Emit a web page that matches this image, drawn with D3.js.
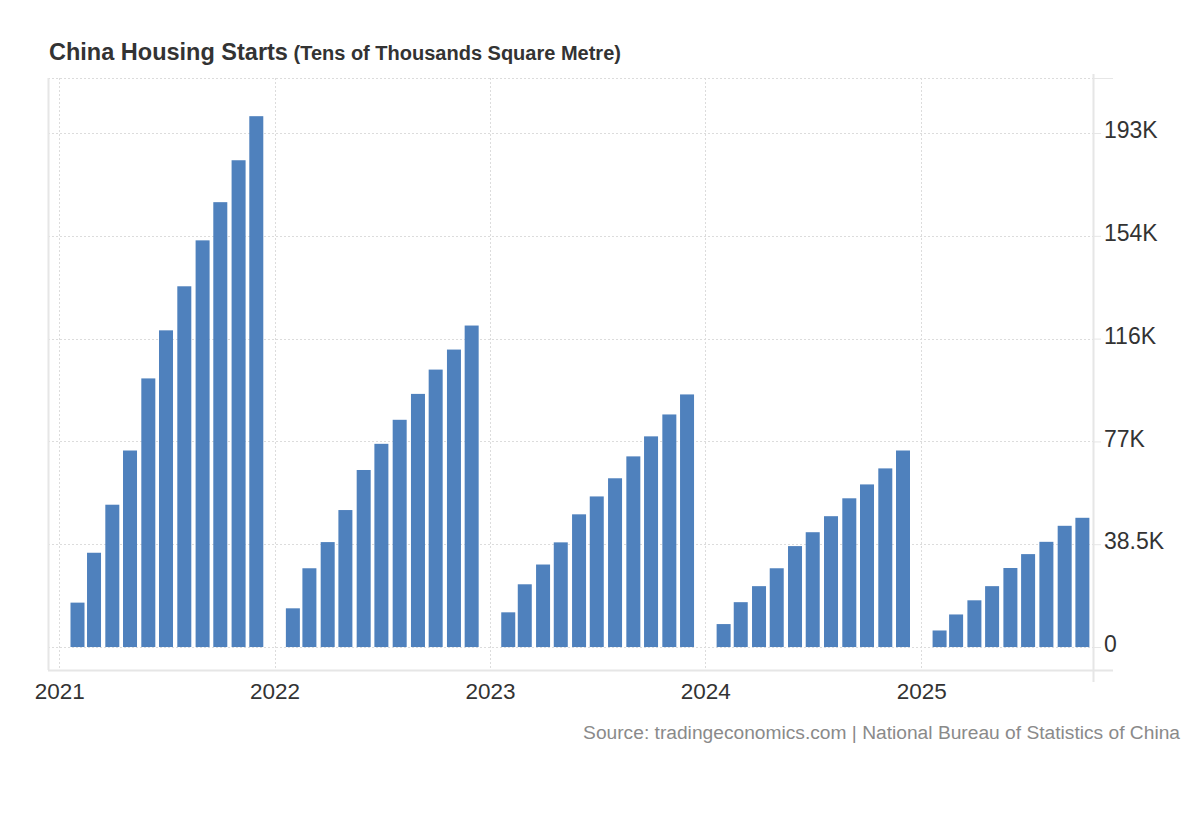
<!DOCTYPE html>
<html>
<head>
<meta charset="utf-8">
<script src="https://cdn.jsdelivr.net/npm/d3@7/dist/d3.min.js"></script>
<style>
  body { margin: 0; background: #fff; }
  svg text { font-family: "Liberation Sans", Arial, sans-serif; }
</style>
</head>
<body>
<div class="Graph"></div>
<script>
// cumulative housing starts, 10k sqm, Jan-Feb reported together so months start at Feb
const months = ["02","03","04","05","06","07","08","09","10","11","12"];
const years = [2021, 2022, 2023, 2024, 2025];
const starts2021 = [16630, 35310, 53300, 73600, 100600, 118600, 135100, 152300, 166600, 182300, 198800];
const starts2022 = [14500, 29500, 39300, 51300, 66300, 76100, 85100, 94800, 103900, 111400, 120400];
const starts2023 = [13000, 23500, 30900, 39200, 49700, 56400, 63200, 71400, 78900, 87100, 94600];
const starts2024 = [8600, 16800, 22800, 29500, 37800, 43000, 49000, 55700, 60900, 66900, 73600];
const starts2025 = [6200, 12200, 17500, 22800, 29600, 34800, 39400, 45400, 48400];
const yTicks = [0, 38500, 77000, 115500, 154000, 192500];
const yTickLabels = ["0", "38.5K", "77K", "116K", "154K", "193K"];

const title = "China Housing Starts";
const subtitle = "(Tens of Thousands Square Metre)";
const source = "Source: tradingeconomics.com | National Bureau of Statistics of China";

let data = [];
[starts2021, starts2022, starts2023, starts2024, starts2025].forEach((arr, i) => {
	arr.forEach((v, j) => {
		data.push({ date: new Date(years[i] + "-" + months[j] + "-01T00:00:00"), value: v });
	});
});

const W = 1200, H = 820;
const pLeft = 48, pRight = 1093, pTop = 78, pBottom = 670;
const barColor = "#4f81bd";
const gridColor = "#dcdcdc";

let svg = d3.select(".Graph")
	.append("svg")
	.attr("width", W)
	.attr("height", H);

let x = d3.scaleTime()
	.domain([new Date("2020-12-13T00:00:00"), new Date("2025-10-19T00:00:00")])
	.range([pLeft, pRight]);

let y = d3.scaleLinear()
	.domain([-8600, 213100])
	.range([pBottom, pTop]);

// horizontal grid
svg.append("g")
	.selectAll("line")
	.data(yTicks.concat([213100]))
	.enter()
	.append("line")
	.attr("x1", pLeft)
	.attr("x2", pRight)
	.attr("y1", d => Math.round(y(d)) + 0.5)
	.attr("y2", d => Math.round(y(d)) + 0.5)
	.attr("stroke", gridColor)
	.attr("stroke-dasharray", "2,2");

// vertical grid at each year
const yearDates = years.map(yr => new Date(yr + "-01-01T00:00:00"));
svg.append("g")
	.selectAll("line")
	.data(yearDates)
	.enter()
	.append("line")
	.attr("x1", d => Math.round(x(d)) + 0.5)
	.attr("x2", d => Math.round(x(d)) + 0.5)
	.attr("y1", pTop)
	.attr("y2", pBottom)
	.attr("stroke", gridColor)
	.attr("stroke-dasharray", "2,2");

// bars, centred on the first of the month
const barW = 14;
svg.append("g")
	.selectAll("rect")
	.data(data)
	.enter()
	.append("rect")
	.attr("x", d => x(d.date) - barW / 2)
	.attr("width", barW)
	.attr("y", d => y(d.value))
	.attr("height", d => y(0) - y(d.value))
	.attr("fill", barColor);

// frame lines
svg.append("line")
	.attr("x1", pLeft + 0.5).attr("x2", pLeft + 0.5)
	.attr("y1", pTop).attr("y2", pBottom)
	.attr("stroke", "#e6e6e6").attr("stroke-width", 2);
svg.append("line")
	.attr("x1", pLeft).attr("x2", pRight + 20)
	.attr("y1", pBottom + 0.5).attr("y2", pBottom + 0.5)
	.attr("stroke", "#e6e6e6").attr("stroke-width", 2);

// right y axis
let yAxis = d3.axisRight(y)
	.tickValues(yTicks)
	.tickSize(8)
	.tickPadding(3)
	.tickFormat((d, i) => yTickLabels[i]);
let ya = svg.append("g")
	.attr("transform", "translate(" + pRight + ",0)")
	.call(yAxis);
ya.select(".domain")
	.attr("d", "M0.5," + (pTop - 4) + "V" + (pBottom + 12))
	.attr("stroke", "#e6e6e6")
	.attr("stroke-width", 2);
ya.selectAll(".tick line").attr("stroke", "#e6e6e6");
ya.selectAll(".tick text")
	.attr("fill", "#333")
	.attr("dy", "0.2em")
	.style("font-size", "23px");
ya.append("line")
	.attr("x1", 0).attr("x2", 20)
	.attr("y1", pTop + 0.5).attr("y2", pTop + 0.5)
	.attr("stroke", "#e6e6e6");

// x axis labels
let xAxis = d3.axisBottom(x)
	.tickValues(yearDates)
	.tickSize(0)
	.tickPadding(13)
	.tickFormat(d3.timeFormat("%Y"));
let xa = svg.append("g")
	.attr("transform", "translate(0," + pBottom + ")")
	.call(xAxis);
xa.select(".domain").remove();
xa.selectAll(".tick text")
	.attr("fill", "#333")
	.style("font-size", "22.5px");

// title
let t = svg.append("text")
	.attr("x", 49)
	.attr("y", 60)
	.attr("fill", "#333")
	.style("font-weight", "bold");
t.append("tspan").text(title).style("font-size", "23.5px");
t.append("tspan").text(" " + subtitle).style("font-size", "20px");

// source
svg.append("text")
	.attr("x", 1180)
	.attr("y", 739)
	.attr("text-anchor", "end")
	.attr("fill", "#8a8a8a")
	.style("font-size", "19.2px")
	.text(source);
</script>
</body>
</html>
